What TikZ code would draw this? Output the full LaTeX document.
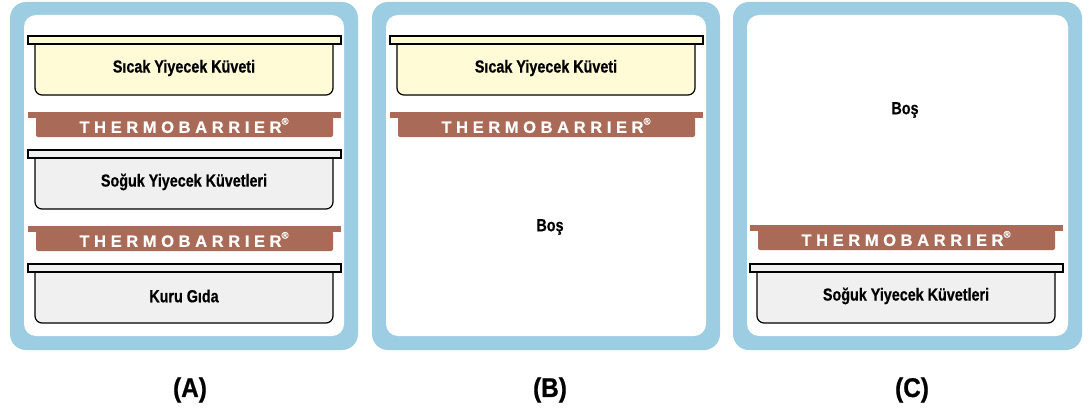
\documentclass[tikz,border=0pt]{standalone}
\usepackage{fontspec}
\usepackage{tikz}
\newfontfamily\condfont[FakeStretch=0.82,FakeBold=0.6]{Liberation Sans}
\newfontfamily\spacedfont[LetterSpace=28,FakeBold=0.5]{Liberation Sans}
\newfontfamily\labelfont[FakeStretch=0.9,FakeBold=0.8]{Liberation Sans}

% a pan: left x, top y, fill colour, name, text
\newcommand{\pan}[5]{%
    \draw[pan line, fill=#3, rounded corners=7] (#1+7,#2+8) -- (#1+7,#2+59) -- (#1+305,#2+59) -- (#1+305,#2+8);
    \draw[pan line, fill=#3] (#1,#2) rectangle (#1+313,#2+8);
    \node[pan text] (#4) at (#1+156,#2+32) {#5};
}
% a thermobarrier: left x, top y, name
\newcommand{\barrier}[3]{%
    \fill[barrier] (#1,#2) rectangle (#1+313,#2+6);
    \fill[barrier, rounded corners=2] (#1+8,#2+5) -- (#1+8,#2+25) -- (#1+305,#2+25) -- (#1+305,#2+5) -- cycle;
    \node[barrier text] (#3) at (#1+156,#2+13.5) {THERMOBARRIER\raisebox{0.5em}{\fontsize{9.5}{9.5}\selectfont ®}};
}

\begin{document}
\begin{tikzpicture}[
        %pixel units, y downwards
        x=1pt, y=-1pt,
        outer box/.style={fill=boxblue, rounded corners=16},
        inner box/.style={fill=white, rounded corners=12},
        pan line/.style={draw=black, line width=1.2pt},
        pan text/.style={font=\condfont\bfseries\fontsize{17.5}{20}\selectfont},
        barrier/.style={fill=barrierbrown},
        barrier text/.style={text=white, font=\spacedfont\bfseries\fontsize{16.5}{18}\selectfont},
        label text/.style={font=\labelfont\bfseries\fontsize{27}{30}\selectfont}
     ]
\definecolor{boxblue}{HTML}{9DCDE3}
\definecolor{hotfill}{HTML}{FFFBD6}
\definecolor{coldfill}{HTML}{F0F0F0}
\definecolor{barrierbrown}{HTML}{A96A57}
\useasboundingbox (0,0) rectangle (1089,412);

% panel A
\fill[outer box] (10,2) rectangle (358,350);
\fill[inner box] (24,15) rectangle (344,336);
\pan{28}{36}{hotfill}{hotA}{S\i cak Yiyecek K\"uveti}
\barrier{28}{112}{barrierA1}
\pan{28}{150}{coldfill}{coldA}{So\u{g}uk Yiyecek K\"uvetleri}
\barrier{28}{226}{barrierA2}
\pan{28}{264}{coldfill}{dryA}{Kuru G\i da}
\node[label text] (labelA) at (190,390) {(A)};

% panel B
\fill[outer box] (372,2) rectangle (720,350);
\fill[inner box] (386,15) rectangle (706,336);
\pan{390}{36}{hotfill}{hotB}{S\i cak Yiyecek K\"uveti}
\barrier{390}{112}{barrierB}
\node[pan text] (emptyB) at (550,227) {Bo\c{s}};
\node[label text] (labelB) at (550,390) {(B)};

% panel C
\fill[outer box] (733,2) rectangle (1082,350);
\fill[inner box] (747,15) rectangle (1068,336);
\node[pan text] (emptyC) at (905,110) {Bo\c{s}};
\barrier{750}{225}{barrierC}
\pan{750}{264}{coldfill}{coldC}{So\u{g}uk Yiyecek K\"uvetleri}
\node[label text] (labelC) at (912,390) {(C)};
\end{tikzpicture}
\end{document}
